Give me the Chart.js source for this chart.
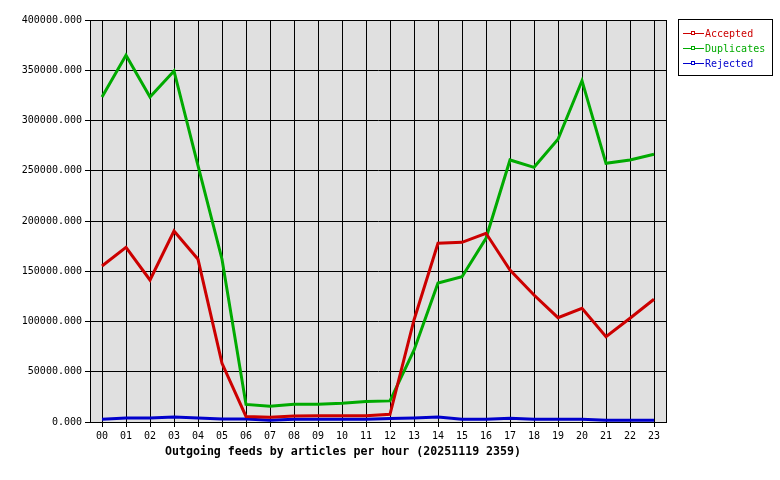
<!DOCTYPE html>
<html>
<head>
<meta charset="utf-8">
<script src="https://cdn.jsdelivr.net/npm/chart.js@4/dist/chart.umd.min.js"></script>
<style>
  html, body { margin: 0; padding: 0; background: #fff; }
  #wrap { width: 780px; height: 480px; }
</style>
</head>
<body>
<div id="wrap"><canvas id="feeds" width="780" height="480"></canvas></div>
<script>
const hours = ['00','01','02','03','04','05','06','07','08','09','10','11','12','13','14','15','16','17','18','19','20','21','22','23'];
const accepted = [155200, 173800, 141300, 190000, 161900, 58400, 5500, 4800, 6000, 6300, 6300, 6300, 7600, 101500, 177800, 178800, 187800, 151200, 126400, 103800, 113100, 84900, 103200, 122100];
const duplicates = [323400, 365000, 323400, 349300, 255000, 162000, 17500, 15600, 17700, 17700, 18700, 20300, 21000, 71500, 138300, 144600, 182800, 260700, 253400, 281300, 339600, 257400, 260700, 266400];
const rejected = [2700, 4000, 4000, 5000, 4000, 3000, 3000, 1700, 2700, 2700, 2700, 2700, 3500, 4000, 5000, 2700, 2700, 3700, 2700, 2700, 2700, 1700, 1700, 1700];
const yTicks = [0, 50000, 100000, 150000, 200000, 250000, 300000, 350000, 400000];
const title = 'Outgoing feeds by articles per hour (20251119 2359)';

const mono = '"DejaVu Sans Mono", "Liberation Mono", monospace';

// grey plot background, full black frame, legend box, title below
const frame = {
  id: 'frame',
  beforeDraw(chart) {
    const a = chart.chartArea, ctx = chart.ctx;
    ctx.save();
    ctx.fillStyle = '#e0e0e0';
    ctx.fillRect(a.left, a.top, a.right - a.left, a.bottom - a.top);
    ctx.restore();
  },
  afterDraw(chart) {
    const a = chart.chartArea, ctx = chart.ctx;
    ctx.save();
    ctx.strokeStyle = '#000';
    ctx.lineWidth = 1;
    ctx.strokeRect(a.left + 0.5, a.top + 0.5, a.right - a.left, a.bottom - a.top);

    // legend
    ctx.fillStyle = '#fff';
    ctx.fillRect(678, 19, 94, 56);
    ctx.strokeRect(678.5, 19.5, 94, 56);
    ctx.font = '10px ' + mono;
    ctx.textBaseline = 'middle';
    chart.data.datasets.forEach((ds, i) => {
      const y = 33 + i * 15;
      ctx.strokeStyle = ds.borderColor;
      ctx.beginPath();
      ctx.moveTo(683, y + 0.5);
      ctx.lineTo(704, y + 0.5);
      ctx.stroke();
      ctx.fillStyle = '#fff';
      ctx.fillRect(691, y - 1, 4, 3);
      ctx.strokeRect(691.5, y - 1.5, 3, 3);
      ctx.fillStyle = ds.borderColor;
      ctx.fillText(ds.label, 705, y + 1);
    });

    // title
    ctx.fillStyle = '#000';
    ctx.font = 'bold 11.6px ' + mono;
    ctx.textAlign = 'center';
    ctx.fillText(title, 343, 452);
    ctx.restore();
  }
};

new Chart(document.getElementById('feeds'), {
  type: 'line',
  data: {
    labels: hours,
    datasets: [
      { label: 'Accepted', data: accepted, borderColor: '#cc0000' },
      { label: 'Duplicates', data: duplicates, borderColor: '#00aa00' },
      { label: 'Rejected', data: rejected, borderColor: '#0000cc' }
    ]
  },
  options: {
    responsive: false,
    animation: false,
    layout: { padding: { left: 0, right: 114, top: 20, bottom: 0 } },
    elements: {
      line: { borderWidth: 3, tension: 0, borderCapStyle: 'butt', borderJoinStyle: 'miter' },
      point: { radius: 0 }
    },
    plugins: {
      legend: { display: false },
      title: { display: false },
      tooltip: { enabled: false }
    },
    scales: {
      x: {
        offset: true,
        grid: { color: '#000', lineWidth: 1, tickLength: 5, offset: false },
        border: { color: '#000' },
        ticks: { color: '#000', font: { family: mono, size: 10 }, padding: 3, maxRotation: 0, autoSkip: false },
        afterFit(scale) { scale.height = 58; }
      },
      y: {
        min: 0,
        max: 400000,
        afterBuildTicks(scale) { scale.ticks = yTicks.map(v => ({ value: v })); },
        grid: { color: '#000', lineWidth: 1, tickLength: 5 },
        border: { color: '#000' },
        ticks: {
          color: '#000',
          font: { family: mono, size: 10 },
          padding: 3,
          callback: v => Number(v).toFixed(3)
        },
        afterFit(scale) { scale.width = 90; }
      }
    }
  },
  plugins: [frame]
});
</script>
</body>
</html>
